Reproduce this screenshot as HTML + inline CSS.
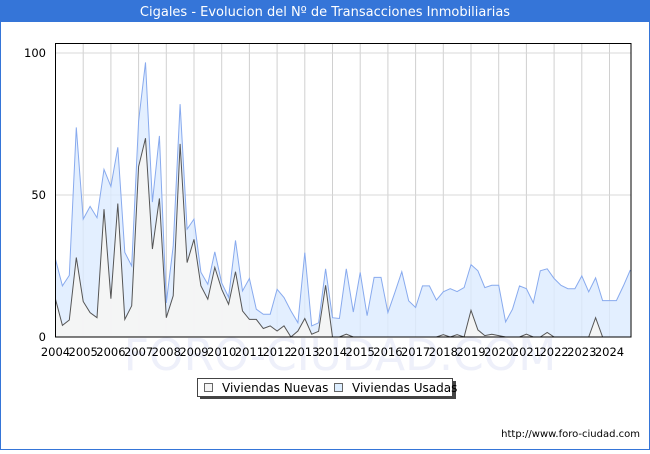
<!DOCTYPE html>
<html><head><meta charset="utf-8"><style>
body{margin:0;width:650px;height:450px;overflow:hidden;background:#fff;font-family:"DejaVu Sans","Liberation Sans",sans-serif;}
</style></head><body>
<svg width="650" height="450" xmlns="http://www.w3.org/2000/svg">
<rect x="0.5" y="0.5" width="649" height="449" fill="#fff" stroke="#3575d8"/>
<rect x="0" y="0" width="650" height="22" fill="#3575d8"/>
<text x="325" y="16" text-anchor="middle" fill="#fff" font-size="13">Cigales - Evolucion del Nº de Transacciones Inmobiliarias</text>
<text x="340" y="370" text-anchor="middle" fill="#eef0fa" font-size="44">FORO-CIUDAD.COM</text>
<g id="grid"></g>
<g id="series"></g>
<rect x="55.5" y="43.5" width="575.5" height="293.5" fill="none" stroke="#000"/>
<g id="axes"></g>
<g>
<rect x="200" y="381" width="256" height="18" fill="#444"/>
<rect x="197.5" y="378.5" width="255" height="18" fill="#fff" stroke="#444"/>
<rect x="204.5" y="383.5" width="8" height="8" fill="#f4f4f4" stroke="#666"/>
<text x="222" y="392" font-size="12" fill="#000">Viviendas Nuevas</text>
<rect x="334.5" y="383.5" width="8" height="8" fill="#ddeeff" stroke="#666"/>
<text x="352" y="392" font-size="12" fill="#000">Viviendas Usadas</text>
</g>
<text x="640" y="437" text-anchor="end" font-size="10" fill="#000">http://www.foro-ciudad.com</text>
</svg>
<script>
const years=[2004,2005,2006,2007,2008,2009,2010,2011,2012,2013,2014,2015,2016,2017,2018,2019,2020,2021,2022,2023,2024];
const yTicks=[0,50,100];
const usadas=[27.4,18,21.7,73.8,41.5,46,42,59,53,66.8,29.8,25,76,96.7,47.5,70.8,12,32,82,38,41.5,22.8,18.6,30,19,14,34,16.2,20.6,9.8,8,8,16.8,13.9,9.2,5,29.7,3.9,5,24,6.8,6.5,24,8.8,22.7,7.5,21,21,8.6,15.6,23,12.7,10.4,18,18,13,15.9,17,16,17.4,25.5,23.3,17.4,18.2,18.2,5.3,9.8,18,17,12,23.3,24,20.6,18.2,17,17,21.5,15.9,20.8,12.8,12.8,12.8,18,23.6];
const nuevas=[13.3,4.1,6,28,12.5,8.6,6.8,45,13.5,47,6.2,11,60,70,31,48.8,6.8,14.5,68,26.2,34.4,18,13.3,24.5,16.8,11.5,23,9.2,6.2,6.2,3,3.9,2.1,3.9,0,2.1,6.5,1,2,18.2,0,0,1,0,0,0,0,0,0,0,0,0,0,0,0,0,0.8,0,0.8,0,9.4,2.5,0.5,1,0.5,0,0,0,1,0,0,1.6,0,0,0,0,0,0,6.8,0,0,0,0,0];
const X0=55.5,YW=27.7,Y0=337,YS=2.84;
const xs=t=>X0+(t-2004)*YW;
const ys=v=>Y0-v*YS;
const NS="http://www.w3.org/2000/svg";
function mk(tag,attrs,parent){const e=document.createElementNS(NS,tag);for(const k in attrs)e.setAttribute(k,attrs[k]);parent.appendChild(e);return e;}
const grid=document.getElementById('grid'),ser=document.getElementById('series'),axes=document.getElementById('axes');
years.forEach(y=>{const l=mk('line',{x1:xs(y),x2:xs(y),y1:43,y2:337,stroke:'#d0d0d0'},grid);


const t=mk('text',{x:xs(y),y:356,'text-anchor':'middle','font-size':'11.5',fill:'#000'},axes);t.textContent=y;

});
yTicks.forEach(v=>{if(v>0){const l=mk('line',{x1:55,x2:631,y1:ys(v),y2:ys(v),stroke:'#d8d8d8'},grid);

}
const t=mk('text',{x:46,y:ys(v)+4,'text-anchor':'end','font-size':'11.5',fill:'#000'},axes);t.textContent=v;

});
function series(arr,fill,stroke,name){
 const pts=arr.map((v,i)=>[xs(2004+i*0.25),ys(v)]);
 const line=pts.map(p=>p[0].toFixed(1)+','+p[1].toFixed(1)).join(' ');
 const a=mk('polygon',{points:pts[0][0].toFixed(1)+','+Y0+' '+line+' '+pts[pts.length-1][0].toFixed(1)+','+Y0,fill:fill},ser);
 
 
 const l=mk('polyline',{points:line,fill:'none',stroke:stroke,'stroke-width':1},ser);
 
 
}
series(usadas,'rgba(220,235,255,0.8)','#88aaee','usadas');
series(nuevas,'rgba(244,244,244,0.95)','#555','nuevas');
</script>
</body></html>
